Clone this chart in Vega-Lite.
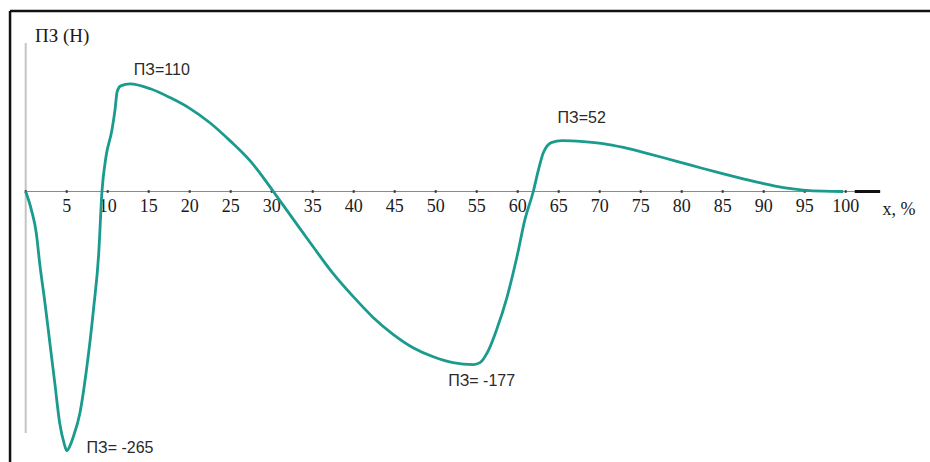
{
  "$schema": "https://vega.github.io/schema/vega-lite/v6.json",
  "width": 930,
  "height": 462,
  "autosize": "none",
  "padding": 0,
  "background": "white",
  "config": {"view": {"stroke": null}},
  "datasets": {
    "curve": [
      {"x": 0, "v": 0}, {"x": 0.7, "v": -19}, {"x": 1.3, "v": -43}, {"x": 1.7, "v": -73},
      {"x": 2.35, "v": -114}, {"x": 2.95, "v": -155}, {"x": 3.55, "v": -196}, {"x": 4.15, "v": -237},
      {"x": 4.7, "v": -258}, {"x": 5.0, "v": -265}, {"x": 5.4, "v": -260}, {"x": 5.8, "v": -251},
      {"x": 6.6, "v": -227}, {"x": 7.4, "v": -183}, {"x": 8.25, "v": -122}, {"x": 8.9, "v": -64},
      {"x": 9.3, "v": 0}, {"x": 9.8, "v": 36}, {"x": 10.5, "v": 62}, {"x": 10.9, "v": 84},
      {"x": 11.15, "v": 102}, {"x": 11.6, "v": 108}, {"x": 12.7, "v": 110}, {"x": 15.2, "v": 105},
      {"x": 17.6, "v": 96}, {"x": 20, "v": 85}, {"x": 22.5, "v": 70}, {"x": 24.9, "v": 52},
      {"x": 27.4, "v": 31}, {"x": 29, "v": 14}, {"x": 30.2, "v": 0}, {"x": 32.6, "v": -28},
      {"x": 35.1, "v": -57}, {"x": 37.5, "v": -84}, {"x": 40, "v": -108}, {"x": 42.4, "v": -129},
      {"x": 44.8, "v": -146}, {"x": 47.3, "v": -160}, {"x": 49.7, "v": -169}, {"x": 52.1, "v": -175},
      {"x": 54.6, "v": -177}, {"x": 55.4, "v": -175}, {"x": 56.4, "v": -163}, {"x": 57.4, "v": -142},
      {"x": 58.7, "v": -108}, {"x": 59.9, "v": -67}, {"x": 60.9, "v": -28}, {"x": 61.9, "v": 0},
      {"x": 62.5, "v": 21}, {"x": 63.1, "v": 39}, {"x": 64.1, "v": 50}, {"x": 65.4, "v": 52},
      {"x": 68, "v": 51}, {"x": 70.4, "v": 49}, {"x": 72.9, "v": 45}, {"x": 75.3, "v": 40},
      {"x": 77.8, "v": 34.5}, {"x": 80.2, "v": 29}, {"x": 82.6, "v": 23.5}, {"x": 85.1, "v": 18},
      {"x": 87.5, "v": 13}, {"x": 90, "v": 8}, {"x": 92.4, "v": 4}, {"x": 94.8, "v": 1.5},
      {"x": 97.3, "v": 0.3}, {"x": 99.7, "v": 0}
    ],
    "ticks": [
      {"x": 0, "v": 0, "label": ""}, {"x": 5, "v": 0, "label": "5"}, {"x": 10, "v": 0, "label": "10"},
      {"x": 15, "v": 0, "label": "15"}, {"x": 20, "v": 0, "label": "20"}, {"x": 25, "v": 0, "label": "25"},
      {"x": 30, "v": 0, "label": "30"}, {"x": 35, "v": 0, "label": "35"}, {"x": 40, "v": 0, "label": "40"},
      {"x": 45, "v": 0, "label": "45"}, {"x": 50, "v": 0, "label": "50"}, {"x": 55, "v": 0, "label": "55"},
      {"x": 60, "v": 0, "label": "60"}, {"x": 65, "v": 0, "label": "65"}, {"x": 70, "v": 0, "label": "70"},
      {"x": 75, "v": 0, "label": "75"}, {"x": 80, "v": 0, "label": "80"}, {"x": 85, "v": 0, "label": "85"},
      {"x": 90, "v": 0, "label": "90"}, {"x": 95, "v": 0, "label": "95"}, {"x": 100, "v": 0, "label": "100"}
    ],
    "notes": [
      {"x": 16.6, "v": 119, "label": "ПЗ=110"},
      {"x": 11.5, "v": -267, "label": "ПЗ= -265"},
      {"x": 55.6, "v": -199, "label": "ПЗ= -177"},
      {"x": 67.8, "v": 70, "label": "ПЗ=52"}
    ]
  },
  "encoding": {
    "x": {"field": "x", "type": "quantitative", "scale": {"domain": [-3.134, 110.28], "nice": false, "zero": false}, "axis": null},
    "y": {"field": "v", "type": "quantitative", "scale": {"domain": [-276.6, 195.8], "nice": false, "zero": false}, "axis": null}
  },
  "layer": [
    {
      "data": {"values": [{"x": -1.91, "v": 184.6, "v2": -320}]},
      "mark": {"type": "rule", "color": "#111", "strokeWidth": 2.5},
      "encoding": {"y2": {"field": "v2"}}
    },
    {
      "data": {"values": [{"x": -1.91, "x2": 130, "v": 184.6}]},
      "mark": {"type": "rule", "color": "#111", "strokeWidth": 2.5},
      "encoding": {"x2": {"field": "x2"}}
    },
    {
      "data": {"values": [{"x": 0, "v": 151.8, "v2": -247}]},
      "mark": {"type": "rule", "color": "#c4c4c4", "strokeWidth": 2},
      "encoding": {"y2": {"field": "v2"}}
    },
    {
      "data": {"values": [{"x": 0, "x2": 104.2, "v": 0}]},
      "mark": {"type": "rule", "color": "#8a8a8a", "strokeWidth": 1},
      "encoding": {"x2": {"field": "x2"}}
    },
    {
      "data": {"values": [{"x": 101.1, "x2": 104.2, "v": 0}]},
      "mark": {"type": "rule", "color": "#111", "strokeWidth": 3},
      "encoding": {"x2": {"field": "x2"}}
    },
    {
      "data": {"name": "ticks"},
      "mark": {"type": "tick", "orient": "vertical", "color": "#111", "size": 3, "thickness": 2},
      "encoding": {}
    },
    {
      "data": {"name": "ticks"},
      "mark": {"type": "text", "font": "Liberation Serif", "fontSize": 18, "color": "#1a1a1a", "baseline": "alphabetic", "align": "center", "dy": 20.5},
      "encoding": {"text": {"field": "label"}}
    },
    {
      "data": {"values": [{"x": 104.5, "v": 0, "label": "x, %"}]},
      "mark": {"type": "text", "font": "Liberation Serif", "fontSize": 18, "color": "#1a1a1a", "baseline": "alphabetic", "align": "left", "dy": 24},
      "encoding": {"text": {"field": "label"}}
    },
    {
      "data": {"values": [{"x": 1.13, "v": 152.9, "label": "ПЗ (Н)"}]},
      "mark": {"type": "text", "font": "Liberation Serif", "fontSize": 19, "color": "#1a1a1a", "baseline": "alphabetic", "align": "left"},
      "encoding": {"text": {"field": "label"}}
    },
    {
      "data": {"name": "curve"},
      "mark": {"type": "line", "color": "#1b9a8e", "strokeWidth": 2.8, "interpolate": "monotone"},
      "encoding": {}
    },
    {
      "data": {"name": "notes"},
      "mark": {"type": "text", "font": "Liberation Sans", "fontSize": 16, "color": "#2a2a2a", "baseline": "alphabetic", "align": "center"},
      "encoding": {"text": {"field": "label"}}
    }
  ]
}
